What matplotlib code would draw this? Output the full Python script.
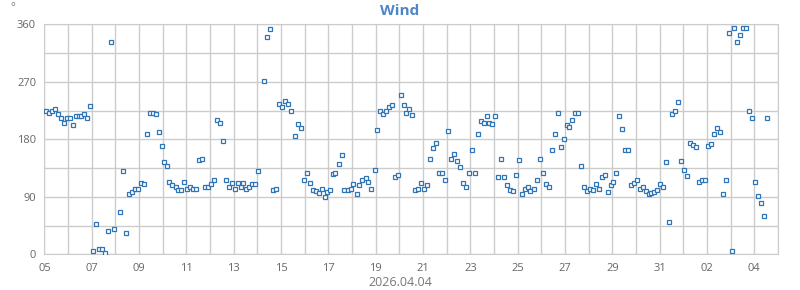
import numpy as np
import pandas as pd
import matplotlib
matplotlib.use('Agg')
import matplotlib.pyplot as plt
import matplotlib.dates as mdates
from matplotlib.ticker import MultipleLocator

# ----
# data
# ----
start = pd.Timestamp('2026-03-05')
end = pd.Timestamp('2026-04-05')

# days after 2026-03-05 00:00
days = [0.08, 0.21, 0.34, 0.46, 0.59, 0.71, 0.84, 0.97, 1.09, 1.22, 1.34, 1.47, 1.55, 1.68, 1.81, 1.93,
        2.06, 2.18, 2.31, 2.44, 2.56, 2.69, 2.82, 2.94, 3.19, 3.31, 3.44, 3.57, 3.70, 3.82, 3.95, 4.08,
        4.20, 4.33, 4.46, 4.58, 4.71, 4.83, 4.96, 5.04, 5.17,
        5.28, 5.41, 5.54, 5.66, 5.79, 5.92, 6.04, 6.17, 6.29, 6.42, 6.55, 6.67, 6.80, 6.93, 7.05, 7.18,
        7.30, 7.43, 7.56, 7.68, 7.81, 7.94, 8.06, 8.19, 8.32, 8.40, 8.53, 8.65, 8.78, 8.90, 9.03, 9.28,
        9.41, 9.53, 9.66, 9.79, 9.91, 10.04, 10.17, 10.29, 10.42,
        10.58, 10.71, 10.83, 10.96, 11.08, 11.21, 11.34, 11.46, 11.59, 11.72, 11.84, 11.93, 12.05, 12.18,
        12.30, 12.43, 12.56, 12.68, 12.81, 12.94, 13.06, 13.19, 13.31, 13.44, 13.57, 13.69, 13.82, 13.95,
        14.07, 14.20, 14.32, 14.45, 14.58, 14.70, 14.83, 14.96, 15.08, 15.21, 15.29, 15.42, 15.55, 15.67,
        15.79, 15.92, 16.04, 16.17, 16.29, 16.42, 16.55, 16.67, 16.80, 16.93, 17.05, 17.18, 17.30, 17.43,
        17.56, 17.68, 17.81, 17.94, 18.06, 18.19, 18.31, 18.44, 18.57, 18.69, 18.78, 18.90, 19.03, 19.16,
        19.28, 19.41, 19.53, 19.66, 19.79, 19.91, 20.04, 20.17, 20.29, 20.42, 20.54, 20.67, 20.80,
        20.96, 21.08, 21.21, 21.34, 21.46, 21.59, 21.72, 21.85, 21.97, 22.10, 22.18, 22.31, 22.44, 22.56,
        22.69, 22.82, 22.94, 23.07, 23.20, 23.32, 23.45, 23.58, 23.70, 23.83, 23.96, 24.04, 24.17, 24.30,
        24.42, 24.55, 24.68, 24.80, 24.93, 25.06, 25.18, 25.31, 25.44, 25.56, 25.65, 25.77, 25.90, 26.03,
        26.15, 26.28, 26.41, 26.54, 26.66, 26.79, 26.92, 27.04, 27.17, 27.30, 27.42, 27.55, 27.68, 27.80,
        27.93, 28.06, 28.18, 28.31, 28.44, 28.56, 28.69, 28.82, 28.94, 29.07, 29.15, 29.28, 29.41, 29.54,
        29.66, 29.79, 29.92, 30.04, 30.17, 30.30, 30.42, 30.55]

wind_dir = [225, 221, 225, 227, 219, 213, 205, 214, 214, 203, 216, 217, 217, 219, 214, 232,
            5, 47, 8, 8, 2, 36, 333, 39, 67, 131, 33, 95, 97, 102, 103, 111,
            110, 189, 222, 221, 219, 192, 169, 144, 139,
            113, 108, 105, 100, 100, 113, 103, 106, 102, 102, 147, 149, 106, 105, 110, 117,
            210, 205, 177, 117, 105, 111, 102, 111, 105, 111, 102, 106, 110, 110, 130, 271,
            340, 352, 100, 103, 235, 230, 240, 236, 224,
            186, 204, 197, 117, 127, 111, 100, 99, 96, 103, 89, 97, 100, 125,
            127, 141, 155, 100, 100, 103, 110, 94, 108, 117, 119, 113, 103, 132,
            194, 224, 219, 225, 230, 233, 121, 124, 249, 233, 221, 227, 218, 100,
            103, 111, 102, 108, 149, 166, 175, 127, 128, 116, 193, 150, 157, 146,
            136, 111, 106, 127, 163, 127, 188, 208, 205, 216, 205, 204, 216, 121,
            150, 121, 108, 100, 99, 124, 147, 94, 103, 106, 99, 102, 117,
            149, 127, 110, 105, 163, 189, 221, 168, 180, 202, 200, 210, 221, 222,
            139, 106, 99, 103, 100, 110, 102, 121, 124, 97, 108, 113, 128, 216,
            196, 164, 163, 108, 111, 117, 102, 105, 99, 94, 96, 97, 100, 110,
            106, 144, 50, 219, 224, 238, 146, 132, 122, 174, 171, 168, 113, 116,
            117, 169, 172, 189, 197, 191, 94, 116, 347, 5, 354, 333, 344, 354,
            355, 224, 213, 114, 92, 81, 60, 214]

y_ticks = [0, 90, 180, 270, 360]
title = 'Wind'
date_label = '2026.04.04'
unit = '°'

times = start + pd.to_timedelta(days, unit='D')

# ----
# plot
# ----
plt.rcParams['font.family'] = ['Open Sans', 'DejaVu Sans']

fig = plt.figure(figsize=(8, 2.9), dpi=100)
ax = fig.add_axes([0.0555, 0.123, 0.917, 0.793])

ax.plot(times, wind_dir, 's', markersize=2.8, markeredgewidth=0.9,
        markerfacecolor='white', markeredgecolor='#2f74b5', linestyle='none', zorder=3)

ax.set_xlim(start, end)
ax.set_ylim(0, 360)
ax.set_yticks(y_ticks)
ax.yaxis.set_minor_locator(MultipleLocator(45))

# labels every second day counted from the start, grid every day
ticks = [start + pd.Timedelta(days=d) for d in range(0, 31, 2)]
ax.set_xticks(ticks)
ax.set_xticklabels([t.strftime('%d') for t in ticks])
ax.xaxis.set_minor_locator(mdates.DayLocator())

ax.grid(True, which='both', color='#cccccc', linewidth=1.0)
ax.set_axisbelow(True)
ax.tick_params(which='both', length=0, labelsize=8, labelcolor='#666666', pad=6)
for s in ax.spines.values():
    s.set_color('#cccccc')

fig.text(0.5, 0.962, title, ha='center', va='center', fontsize=11,
         fontweight='bold', color='#4a86c8')
fig.text(0.5, 0.025, date_label, ha='center', va='center', fontsize=9, color='#777777')
fig.text(0.016, 0.972, unit, ha='center', va='center', fontsize=8, color='#777777')

fig.savefig('out.png', dpi=100)
